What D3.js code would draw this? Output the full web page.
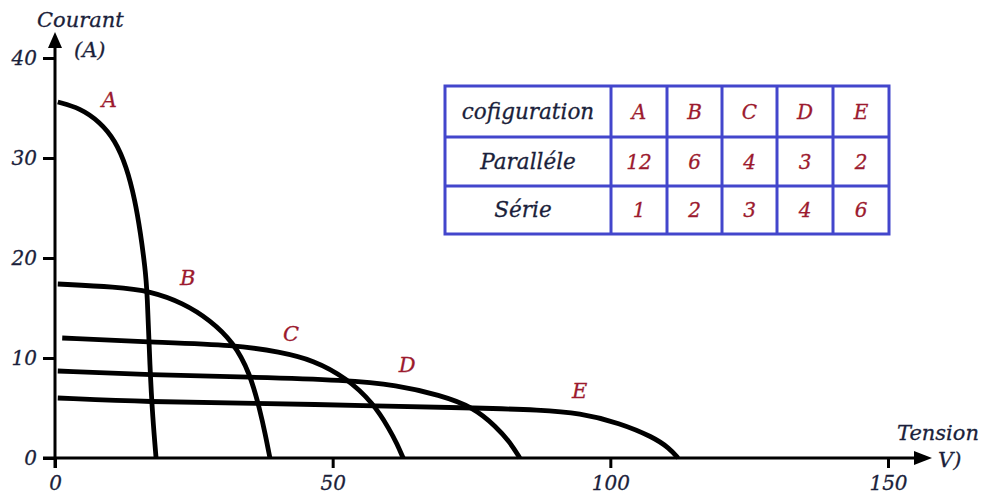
<!DOCTYPE html>
<html>
<head>
<meta charset="utf-8">
<script src="https://cdn.jsdelivr.net/npm/d3@7/dist/d3.min.js"></script>
<style>
  html, body { margin: 0; padding: 0; background: #fff; }
  svg { display: block; }
  text { font-family: "DejaVu Serif", serif; font-style: italic; }
</style>
</head>
<body>
<svg id="chart" width="986" height="498"></svg>
<script>
// I-V characteristics of five array configurations (voltage in V, current in A)
const curveNames = ["A", "B", "C", "D", "E"];
const voltageA = [0.5, 4.5, 8.1, 10.8, 12.9, 14.4, 15.4, 16.2, 16.6, 17.1, 17.6, 18.2];
const currentA = [35.6, 35.0, 33.6, 31.8, 29.1, 25.8, 22.5, 19.1, 16.8, 8.8, 4.0, 0];
const voltageB = [0.5, 11.1, 17.1, 23.1, 27.9, 32.1, 35.1, 36.9, 37.9, 38.7];
const currentB = [17.4, 17.1, 16.7, 15.5, 13.8, 11.6, 8.5, 4.8, 2.3, 0];
const voltageC = [1.3, 17.1, 32.7, 40.5, 46.5, 52.5, 57.3, 60.3, 61.6, 62.7];
const currentC = [12.0, 11.6, 11.3, 10.6, 9.8, 8.0, 5.5, 2.8, 1.4, 0];
const voltageD = [0.5, 17.1, 35.1, 52.5, 61.5, 69.3, 75.3, 79.5, 81.9, 83.7];
const currentD = [8.7, 8.3, 8.1, 7.8, 7.3, 6.3, 5.1, 3.1, 1.6, 0];
const voltageE = [0.5, 17.1, 35.1, 58.5, 76.5, 87.3, 94.5, 101.7, 107.7, 110.6, 112.2];
const currentE = [6.0, 5.6, 5.5, 5.2, 5.0, 4.8, 4.5, 3.5, 2.1, 1.0, 0];

// Curve label anchor points (V, I)
const labelVoltage = [9.8, 23.9, 42.5, 63.4, 94.5];
const labelCurrent = [35.1, 17.3, 11.7, 8.6, 6.0];

// Axis ticks
const xTicks = [0, 50, 100, 150];
const yTicks = [0, 10, 20, 30, 40];

// Configuration table
const tableHeader = "cofiguration";
const rowNames = ["Paralléle", "Série"];
const parallelCount = [12, 6, 4, 3, 2];
const seriesCount = [1, 2, 3, 4, 6];

const svg = d3.select("#chart");
const ink = "#1b1f3b";
const red = "#9c1a2e";
const blue = "#4346cc";

const x = d3.scaleLinear().domain([0, 150]).range([55, 888]);
const y = d3.scaleLinear().domain([0, 40]).range([458, 58]);

// Axes (ticks from d3, domain lines drawn as arrows)
const xAxis = svg.append("g")
  .attr("transform", `translate(0,${y(0)})`)
  .call(d3.axisBottom(x).tickValues(xTicks).tickSize(10).tickPadding(8).tickFormat(d3.format("d")));
const yAxis = svg.append("g")
  .attr("transform", `translate(${x(0)},0)`)
  .call(d3.axisLeft(y).tickValues(yTicks).tickSize(12).tickPadding(6).tickFormat(d3.format("d")));
[xAxis, yAxis].forEach(g => {
  g.select(".domain").remove();
  g.selectAll(".tick line").attr("stroke", "#000").attr("stroke-width", 3);
  g.selectAll(".tick text")
    .attr("fill", ink)
    .attr("stroke", ink).attr("stroke-width", 0.3)
    .style("font-size", "20px")
    .style("font-family", "'DejaVu Serif', serif")
    .style("font-style", "italic");
});
yAxis.selectAll(".tick text").attr("dy", "0.32em");

// Axis lines with arrow heads
svg.append("line")
  .attr("x1", x(0)).attr("y1", y(0) + 10)
  .attr("x2", x(0)).attr("y2", 44)
  .attr("stroke", "#000").attr("stroke-width", 3);
svg.append("path")
  .attr("d", `M${x(0)},32 L${x(0) - 7},48 L${x(0) + 7},48 Z`).attr("fill", "#000");
svg.append("line")
  .attr("x1", x(0) - 12).attr("y1", y(0))
  .attr("x2", 918).attr("y2", y(0))
  .attr("stroke", "#000").attr("stroke-width", 3);
svg.append("path")
  .attr("d", `M932,${y(0)} L914,${y(0) - 7} L914,${y(0) + 7} Z`).attr("fill", "#000");

// Axis titles
const title = (tx, ty, s, anchor) => svg.append("text")
  .attr("x", tx).attr("y", ty).attr("fill", ink)
  .attr("stroke", ink).attr("stroke-width", 0.3)
  .attr("text-anchor", anchor || "start")
  .style("font-size", "21px").text(s);
title(37, 27, "Courant");
title(74, 57, "(A)");
title(979, 440, "Tension", "end");
title(938, 467, "V)");

// I-V curves, smoothed through the read-off points
const series = [
  [voltageA, currentA], [voltageB, currentB], [voltageC, currentC],
  [voltageD, currentD], [voltageE, currentE]
];
const line = d3.line()
  .x(d => x(d[0])).y(d => y(d[1]))
  .curve(d3.curveBasis);
svg.append("g").selectAll("path")
  .data(series)
  .join("path")
  .attr("d", ([v, i]) => line(v.map((vv, k) => [vv, i[k]])))
  .attr("fill", "none")
  .attr("stroke", "#000")
  .attr("stroke-width", 4.8)
  .attr("stroke-linecap", "butt");

svg.append("g").selectAll("text")
  .data(curveNames)
  .join("text")
  .attr("x", (d, k) => x(labelVoltage[k]))
  .attr("y", (d, k) => y(labelCurrent[k]))
  .attr("text-anchor", "middle")
  .attr("fill", red)
  .attr("stroke", red).attr("stroke-width", 0.3)
  .style("font-size", "21px")
  .text(d => d);

// Configuration table
const colEdges = [445, 611, 667, 722, 777, 833, 889];
const rowEdges = [86, 137, 186, 234];
const tbl = svg.append("g");
tbl.append("rect")
  .attr("x", colEdges[0]).attr("y", rowEdges[0])
  .attr("width", colEdges[6] - colEdges[0]).attr("height", rowEdges[3] - rowEdges[0])
  .attr("fill", "none").attr("stroke", blue).attr("stroke-width", 3);
colEdges.slice(1, -1).forEach(cx => tbl.append("line")
  .attr("x1", cx).attr("x2", cx).attr("y1", rowEdges[0]).attr("y2", rowEdges[3])
  .attr("stroke", blue).attr("stroke-width", 3));
rowEdges.slice(1, -1).forEach(ry => tbl.append("line")
  .attr("x1", colEdges[0]).attr("x2", colEdges[6]).attr("y1", ry).attr("y2", ry)
  .attr("stroke", blue).attr("stroke-width", 3));

const rowsText = [
  [tableHeader, curveNames],
  [rowNames[0], parallelCount],
  [rowNames[1], seriesCount]
];
rowsText.forEach(([head, vals], r) => {
  const cy = (rowEdges[r] + rowEdges[r + 1]) / 2 + 7;
  tbl.append("text")
    .attr("x", (colEdges[0] + colEdges[1]) / 2 + (r === 2 ? -5 : 0)).attr("y", cy)
    .attr("text-anchor", "middle").attr("fill", ink)
    .attr("stroke", ink).attr("stroke-width", 0.3)
    .style("font-size", "21.5px").text(head);
  vals.forEach((v, c) => tbl.append("text")
    .attr("x", (colEdges[c + 1] + colEdges[c + 2]) / 2).attr("y", cy)
    .attr("text-anchor", "middle").attr("fill", red)
    .attr("stroke", red).attr("stroke-width", 0.3)
    .style("font-size", "20px").text(v));
});
</script>
</body>
</html>
